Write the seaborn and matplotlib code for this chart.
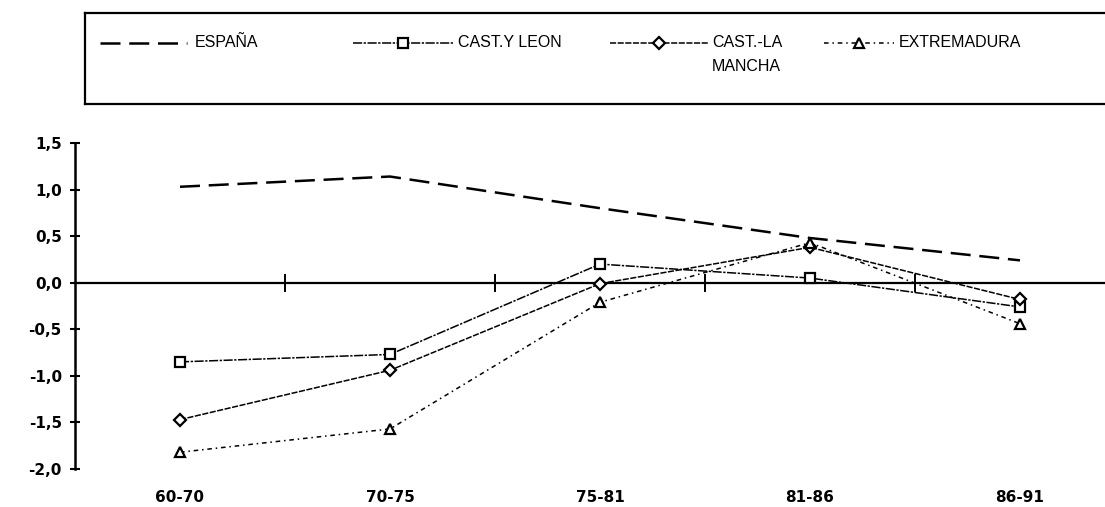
import matplotlib
matplotlib.use('Agg')
import matplotlib.pyplot as plt
import seaborn as sns
import pandas as pd

# datos del grafico
periodos = ["60-70", "70-75", "75-81", "81-86", "86-91"]
espana = [1.03, 1.14, 0.80, 0.48, 0.24]
cast_leon = [-0.85, -0.77, 0.20, 0.05, -0.26]
cast_mancha = [-1.47, -0.94, -0.01, 0.38, -0.18]
extremadura = [-1.82, -1.57, -0.21, 0.43, -0.44]

nombres = ["ESPAÑA", "CAST.Y LEON", "CAST.-LA\nMANCHA", "EXTREMADURA"]
y_ticks = [-2.0, -1.5, -1.0, -0.5, 0.0, 0.5, 1.0, 1.5]
y_labels = ["-2,0", "-1,5", "-1,0", "-0,5", "0,0", "0,5", "1,0", "1,5"]

df = pd.DataFrame({
    "periodo": periodos * 4,
    "valor": espana + cast_leon + cast_mancha + extremadura,
    "region": [n for n in nombres for _ in periodos],
})

# estilo de cada serie
estilos = {
    "ESPAÑA": dict(marker=None, linestyle=(0, (8, 3.5)), linewidth=1.8),
    "CAST.Y LEON": dict(marker="s", linestyle=(0, (6, 1, 1.5, 1)), linewidth=1.1),
    "CAST.-LA\nMANCHA": dict(marker="D", linestyle=(0, (4, 1)), linewidth=1.1),
    "EXTREMADURA": dict(marker="^", linestyle=(0, (3, 2.5, 1, 2.5)), linewidth=1.1),
}

sns.set_style("white")
plt.rcParams['font.family'] = ['Liberation Sans', 'DejaVu Sans']
plt.rcParams['text.color'] = 'black'
plt.rcParams['xtick.color'] = 'black'
plt.rcParams['ytick.color'] = 'black'

fig = plt.figure(figsize=(11.05, 5.07), dpi=100)
ax = fig.add_axes([75 / 1105, 1 - 469 / 507, 1050 / 1105, 326 / 507])

for region in nombres:
    sub = df[df["region"] == region]
    st = estilos[region]
    sns.lineplot(
        data=sub, x="periodo", y="valor", ax=ax, color="black",
        marker=st["marker"], linestyle=st["linestyle"], linewidth=st["linewidth"],
        markersize=7 if st["marker"] != "D" else 6,
        markerfacecolor="white", markeredgecolor="black", markeredgewidth=1.6,
    )

ax.set_xlim(-0.5, 4.5)
ax.set_ylim(-2.0, 1.5)
ax.set_xlabel("")
ax.set_ylabel("")

for s in ["top", "right", "bottom"]:
    ax.spines[s].set_visible(False)
ax.spines["left"].set_linewidth(1.8)
ax.spines["left"].set_color("black")

ax.set_yticks(y_ticks, y_labels)
ax.tick_params(axis="y", left=True, direction="inout", length=7, width=1.5, pad=6,
               labelsize=11, color="black", labelcolor="black")
ax.set_xticks(range(len(periodos)), periodos)
ax.tick_params(axis="x", bottom=True, length=0, pad=15, labelsize=11,
               labelcolor="black")
plt.setp(ax.get_xticklabels() + ax.get_yticklabels(), fontweight="bold",
         family="DejaVu Sans")

# linea del cero con marcas entre periodos
sec = ax.secondary_xaxis(2.0 / 3.5)
sec.set_xticks([0.5, 1.5, 2.5, 3.5])
sec.set_xticklabels([])
sec.tick_params(direction="inout", length=13, width=1.4, color="black")
for sp in sec.spines.values():
    sp.set_linewidth(1.6)
    sp.set_color("black")

# leyenda en recuadro
lax = fig.add_axes([85 / 1105, 1 - 104 / 507, 1.0, 91 / 507])
lax.set_xlim(85, 85 + 1105)
lax.set_ylim(104, 13)
lax.set_xticks([])
lax.set_yticks([])
for sp in lax.spines.values():
    sp.set_linewidth(1.6)
    sp.set_color("black")

pos_leyenda = [(100, 187, 195), (353, 453, 458), (610, 708, 712), (824, 894, 899)]
for region, (x0, x1, xt) in zip(nombres, pos_leyenda):
    st = estilos[region]
    lax.plot([x0, x1], [43, 43], color="black", linestyle=st["linestyle"],
             linewidth=st["linewidth"])
    if st["marker"]:
        lax.plot([(x0 + x1) / 2], [43], color="black", marker=st["marker"],
                 markersize=7 if st["marker"] != "D" else 6,
                 markerfacecolor="white", markeredgecolor="black", markeredgewidth=1.6)
    lax.text(xt, 35, region, va="top", ha="left", fontsize=11.5, linespacing=1.75,
             color="black")

fig.savefig("out.png", dpi=100)
